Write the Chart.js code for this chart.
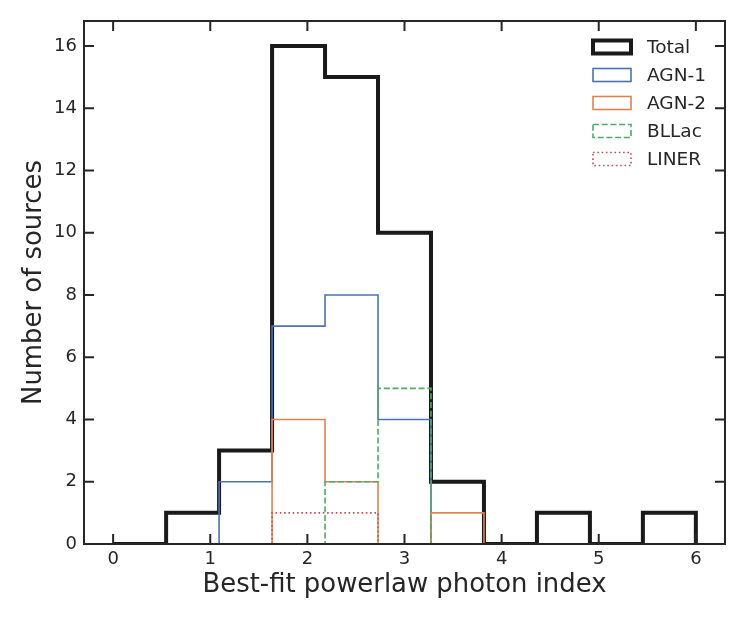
<!DOCTYPE html>
<html>
<head>
<meta charset="utf-8">
<script src="https://cdn.jsdelivr.net/npm/chart.js@4/dist/chart.umd.min.js"></script>
<style>
  body { margin: 0; background: #fff; }
  canvas { display: block; }
</style>
</head>
<body>
<canvas id="histChart" width="747" height="623"></canvas>
<script>
// bin edges (11 bins between 0 and 6)
const binEdges = [0, 0.5455, 1.0909, 1.6364, 2.1818, 2.7273, 3.2727, 3.8182, 4.3636, 4.9091, 5.4545, 6.0];

// counts per bin
const totalCounts = [0, 1, 3, 16, 15, 10, 2, 0, 1, 0, 1];
const agn1Counts  = [0, 0, 2, 7, 8, 4, 0, 0, 0, 0, 0];
const agn2Counts  = [0, 0, 0, 4, 2, 0, 1, 0, 0, 0, 0];
const bllacCounts = [0, 0, 0, 0, 2, 5, 0, 0, 0, 0, 0];
const linerCounts = [0, 0, 0, 1, 1, 0, 0, 0, 0, 0, 0];

const seriesNames = ['Total', 'AGN-1', 'AGN-2', 'BLLac', 'LINER'];

const xTicks = [0, 1, 2, 3, 4, 5, 6];
const yTicks = [0, 2, 4, 6, 8, 10, 12, 14, 16];

const textColor = '#262626';
const fontFamily = '"DejaVu Sans", sans-serif';

// turn bin counts into the outline of a step histogram
function stepPoints(counts) {
    const pts = [{ x: binEdges[0], y: 0 }];
    counts.forEach(function(c, i) {
        pts.push({ x: binEdges[i], y: c });
    });
    pts.push({ x: binEdges[binEdges.length - 1], y: 0 });
    return pts;
}

function histSet(label, counts, color, width, dash, order) {
    return {
        label: label,
        data: stepPoints(counts),
        borderColor: color,
        backgroundColor: '#ffffff',
        borderWidth: width,
        borderDash: dash,
        stepped: true,
        fill: false,
        pointRadius: 0,
        pointHoverRadius: 0,
        clip: 0,
        order: order
    };
}

// spines and inward ticks on all four sides
const frameTicks = {
    id: 'frameTicks',
    afterDatasetsDraw: function(chart) {
        const ctx = chart.ctx;
        const a = chart.chartArea;
        const xs = chart.scales.x, ys = chart.scales.y;
        const len = 10;
        ctx.save();
        ctx.strokeStyle = textColor;
        ctx.lineWidth = 2;
        ctx.strokeRect(a.left, a.top, a.right - a.left, a.bottom - a.top);
        ctx.beginPath();
        xs.ticks.forEach(function(t) {
            const px = xs.getPixelForValue(t.value);
            ctx.moveTo(px, a.bottom); ctx.lineTo(px, a.bottom - len);
            ctx.moveTo(px, a.top); ctx.lineTo(px, a.top + len);
        });
        ys.ticks.forEach(function(t) {
            const py = ys.getPixelForValue(t.value);
            ctx.moveTo(a.left, py); ctx.lineTo(a.left + len, py);
            ctx.moveTo(a.right, py); ctx.lineTo(a.right - len, py);
        });
        ctx.stroke();
        ctx.restore();
    }
};

// matplotlib-like legend, upper right, no frame
const boxLegend = {
    id: 'boxLegend',
    afterDraw: function(chart) {
        const ctx = chart.ctx;
        const a = chart.chartArea;
        const boxW = 38, boxH = 13, rowH = 28;
        const boxX = a.right - 132;
        let cy = a.top + 26;
        ctx.save();
        ctx.font = '18.5px ' + fontFamily;
        ctx.textBaseline = 'middle';
        ctx.textAlign = 'left';
        chart.data.datasets.forEach(function(ds) {
            ctx.fillStyle = '#ffffff';
            ctx.fillRect(boxX, cy - boxH / 2, boxW, boxH);
            ctx.strokeStyle = ds.borderColor;
            ctx.lineWidth = ds.borderWidth;
            ctx.setLineDash(ds.borderDash || []);
            ctx.strokeRect(boxX, cy - boxH / 2, boxW, boxH);
            ctx.setLineDash([]);
            ctx.fillStyle = textColor;
            ctx.fillText(ds.label, boxX + boxW + 16, cy + 1);
            cy += rowH;
        });
        ctx.restore();
    }
};

const ctx = document.getElementById('histChart').getContext('2d');

const histChart = new Chart(ctx, {
    type: 'line',
    data: {
        datasets: [
            histSet(seriesNames[0], totalCounts, '#1a1a1a', 4, [], 5),
            histSet(seriesNames[1], agn1Counts, '#4c72b0', 1.6, [], 4),
            histSet(seriesNames[2], agn2Counts, '#dd8452', 1.6, [], 3),
            histSet(seriesNames[3], bllacCounts, '#55a868', 1.6, [6, 2.7], 2),
            histSet(seriesNames[4], linerCounts, '#c44e52', 1.6, [1.6, 2.7], 1)
        ]
    },
    options: {
        responsive: false,
        animation: false,
        devicePixelRatio: 1,
        layout: { padding: { top: 21, right: 22, left: 0, bottom: 0 } },
        plugins: {
            legend: { display: false },
            tooltip: { enabled: false }
        },
        scales: {
            x: {
                type: 'linear',
                min: -0.3,
                max: 6.3,
                afterBuildTicks: function(s) { s.ticks = xTicks.map(function(v) { return { value: v }; }); },
                afterFit: function(s) { s.height = 79; },
                grid: { display: false, drawTicks: false },
                border: { display: false },
                ticks: {
                    color: textColor,
                    padding: 4.5,
                    maxRotation: 0,
                    font: { family: fontFamily, size: 18 }
                },
                title: {
                    display: true,
                    text: 'Best-fit powerlaw photon index',
                    color: textColor,
                    font: { family: fontFamily, size: 25.9 },
                    padding: { top: 0, bottom: 22.5 }
                }
            },
            y: {
                type: 'linear',
                min: 0,
                max: 16.8,
                afterBuildTicks: function(s) { s.ticks = yTicks.map(function(v) { return { value: v }; }); },
                afterFit: function(s) { s.width = 84; },
                grid: { display: false, drawTicks: false },
                border: { display: false },
                ticks: {
                    color: textColor,
                    padding: 7,
                    font: { family: fontFamily, size: 18 }
                },
                title: {
                    display: true,
                    text: 'Number of sources',
                    color: textColor,
                    font: { family: fontFamily, size: 25.9 },
                    padding: { top: 18.5, bottom: 0 }
                }
            }
        }
    },
    plugins: [frameTicks, boxLegend]
});
</script>
</body>
</html>
